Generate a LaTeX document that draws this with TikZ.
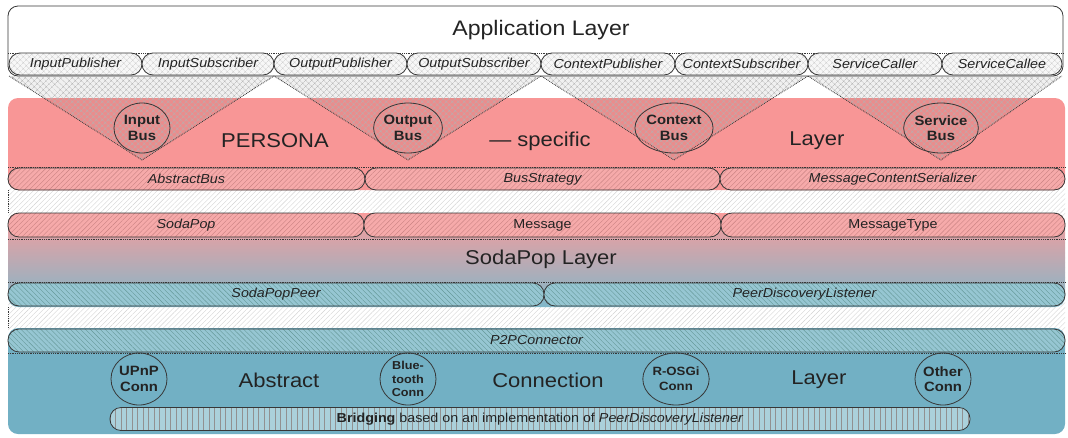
\documentclass[tikz,border=0pt]{standalone}
\usepackage{fontspec}
\setmainfont{Liberation Sans}[FakeStretch=1.1]
\usetikzlibrary{patterns.meta,calc,shapes.geometric}
\definecolor{pinkL}{RGB}{248,150,150}
\definecolor{tealL}{RGB}{114,176,196}
\definecolor{pinkP}{RGB}{246,170,170}
\definecolor{tealP}{RGB}{150,198,210}
\definecolor{edge}{RGB}{55,55,55}
\definecolor{txt}{RGB}{35,35,35}
\tikzset{
  pill/.style={draw=edge, line width=0.8pt, rounded corners=11pt, minimum height=22pt,
    inner sep=0pt, font=\itshape\fontsize{13}{13}\selectfont, text=txt},
  apppill/.style={pill, preaction={fill=gray!6}, pattern={Hatch[angle=45,distance=4pt,line width=0.4pt]}, pattern color=gray!40},
  pinkpill/.style={pill, preaction={fill=pinkP}, pattern={Lines[angle=45,distance=3.5pt,line width=0.4pt]}, pattern color=red!40!gray!70},
  tealpill/.style={pill, preaction={fill=tealP}, pattern={Lines[angle=-45,distance=3.5pt,line width=0.4pt]}, pattern color=teal!50!gray!80},
  bridgepill/.style={pill, font=\fontsize{13}{13}\selectfont, preaction={fill=tealP!80!white}, pattern={Lines[angle=90,distance=5.5pt,line width=0.4pt]}, pattern color=edge!55},
  gaphatch/.style={pattern={Lines[angle=45,distance=3.5pt,line width=0.4pt]}, pattern color=gray!35},
  tri/.style={preaction={fill=black, fill opacity=0.06}, pattern={Hatch[angle=45,distance=4pt,line width=0.45pt]}, pattern color=gray!60},
  dotline/.style={densely dotted, draw=edge, line width=0.8pt},
  bus/.style={ellipse, draw=edge, line width=0.8pt, minimum width=56pt, minimum height=50pt,
    inner sep=0pt, align=center, font=\bfseries\fontsize{13.5}{15.5}\selectfont, text=txt},
  big/.style={font=\fontsize{20}{20}\selectfont, text=txt},
}
\begin{document}
\begin{tikzpicture}[x=1pt,y=-1pt]
\useasboundingbox (0,0) rectangle (1068,437);
% gaps
\path[gaphatch] (8,188) rectangle (1065,330);
\draw[dotline] (8,190) -- (8,213) (8,307) -- (8,328);
% application layer
\draw[edge, line width=0.8pt, fill=white, rounded corners=10pt] (8,6) rectangle (1063,76);
\draw[dotline] (8,53) -- (1063,53);
\node[font=\fontsize{21}{21}\selectfont, text=txt] (app) at (541,30) {Application Layer};
% persona layer
\path[fill=pinkL, rounded corners=10pt] (8,98) rectangle (1065,190);
% triangles
\path[tri] (9,76) -- (274,76) -- (142,160) -- cycle;
\path[tri] (274,76) -- (541,76) -- (408,160) -- cycle;
\path[tri] (541,76) -- (808,76) -- (674,160) -- cycle;
\path[tri] (808,76) -- (1062,76) -- (941,160) -- cycle;
\draw[dotline] (9,76) -- (142,160) -- (274,76) -- (408,160) -- (541,76) -- (674,160) -- (808,76) -- (941,160) -- (1062,76);
\draw[dotline] (8,167) -- (1065,167);
% app pills
\node[apppill, minimum width=133pt] (ip) at (75.5,64) {InputPublisher};
\node[apppill, minimum width=132pt] (is) at (208,64) {InputSubscriber};
\node[apppill, minimum width=133pt] (op) at (340.5,64) {OutputPublisher};
\node[apppill, minimum width=134pt] (os) at (474,64) {OutputSubscriber};
\node[apppill, minimum width=134pt] (cp) at (608,64) {ContextPublisher};
\node[apppill, minimum width=133pt] (cs) at (741.5,64) {ContextSubscriber};
\node[apppill, minimum width=134pt] (sc) at (875,64) {ServiceCaller};
\node[apppill, minimum width=120pt] (se) at (1002,64) {ServiceCallee};
% persona contents
\node[bus] (ib) at (142,128) {Input\\Bus};
\node[bus] (ob) at (408,128) {Output\\Bus};
\node[bus] (cb) at (674,128) {Context\\Bus};
\node[bus] (sb) at (941,128) {Service\\Bus};
\node[big] (pers) at (275,141) {PERSONA};
\node[big] (spec) at (540,141) {— specific};
\node[big] (play) at (817,141) {Layer};
\node[pinkpill, minimum width=357pt] (ab) at (186.5,179) {AbstractBus};
\node[pinkpill, minimum width=355pt] (bs) at (542.5,179) {BusStrategy};
\node[pinkpill, minimum width=345pt] (mcs) at (892.5,179) {MessageContentSerializer};
% sodapop layer
\path[rounded corners=10pt, top color=pinkL!95!white, bottom color=tealL!90!white] (8,213) rectangle (1065,307);
\draw[dotline] (8,239) -- (1065,239);
\draw[dotline] (8,282) -- (1065,282);
\node[pinkpill, minimum width=356pt, minimum height=24pt] (sp) at (186,225) {SodaPop};
\node[pinkpill, minimum width=357pt, minimum height=24pt, font=\fontsize{13}{13}\selectfont] (msg) at (542.5,225) {Message};
\node[pinkpill, minimum width=344pt, minimum height=24pt, font=\fontsize{13}{13}\selectfont] (mt) at (893,225) {MessageType};
\node[big] (spl) at (541,259) {SodaPop Layer};
\node[tealpill, minimum width=536pt, minimum height=23pt] (spp) at (276,294.5) {SodaPopPeer};
\node[tealpill, minimum width=521pt, minimum height=23pt] (pdl) at (804.5,294.5) {PeerDiscoveryListener};
% connection layer
\path[fill=tealL, rounded corners=10pt] (8,328) rectangle (1065,434);
\draw[dotline] (8,353) -- (1065,353);
\node[tealpill, minimum width=1057pt, minimum height=23pt] (p2p) at (536.5,340.5) {P2PConnector};
\node[bus, minimum height=52pt] (upnp) at (139,379) {UPnP\\Conn};
\node[bus, minimum height=52pt, font=\bfseries\fontsize{11.5}{13.5}\selectfont] (bt) at (408,379) {Blue-\\tooth\\Conn};
\node[bus, minimum height=52pt, font=\bfseries\fontsize{12}{15}\selectfont] (rosgi) at (676,379) {R-OSGi\\Conn};
\node[bus, minimum height=52pt] (oc) at (943,379) {Other\\Conn};
\node[big] (abs) at (279,380) {Abstract};
\node[big] (conn) at (548,380) {Connection};
\node[big] (clay) at (819,380) {Layer};
\node[bridgepill, minimum width=860pt, minimum height=23pt] (br) at (540,419) {\textbf{Bridging} based on an implementation of \textit{PeerDiscoveryListener}};
\end{tikzpicture}
\end{document}
